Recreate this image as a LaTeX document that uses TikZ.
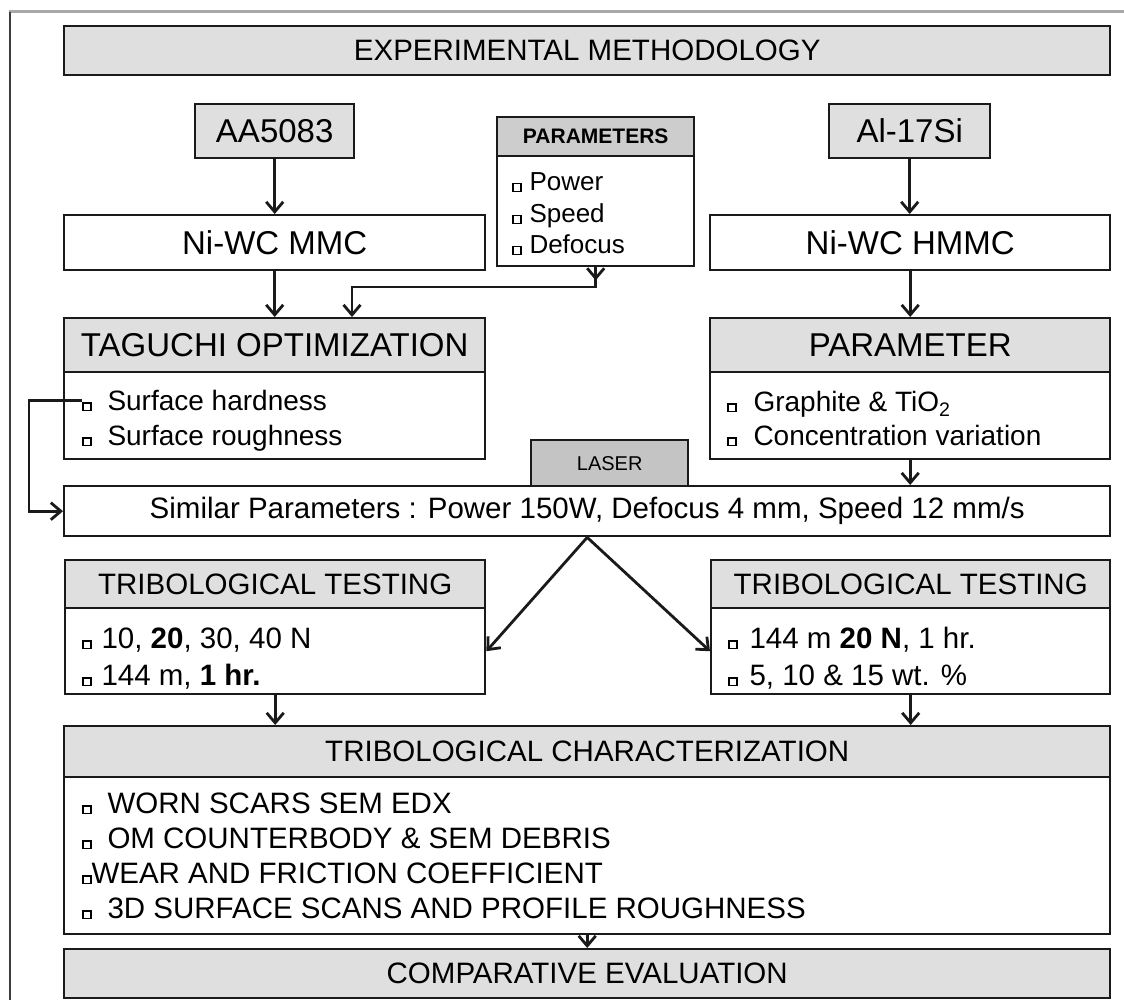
\documentclass[tikz,border=0pt]{standalone}
\usepackage{fontspec}
\setmainfont{Liberation Sans}
\usetikzlibrary{arrows.meta}
\definecolor{boxgray}{HTML}{DFDFDF}
\definecolor{hdgray}{HTML}{CDCDCD}
\definecolor{lasgray}{HTML}{C4C4C4}
\definecolor{edgec}{HTML}{1A1A1A}
\definecolor{framec}{HTML}{A8A8A8}
\newcommand{\sqbul}{{\setlength{\fboxsep}{0pt}\setlength{\fboxrule}{1.4pt}\fbox{\rule{0pt}{6.5pt}\rule{6.5pt}{0pt}}}}
\newcommand{\fsL}{\fontsize{33}{40}\selectfont}
\newcommand{\fsM}{\fontsize{29.5}{36}\selectfont}
\newcommand{\fsI}{\fontsize{28}{34}\selectfont}
\newcommand{\fsS}{\fontsize{26}{31}\selectfont}
\begin{document}
\begin{tikzpicture}[x=1pt,y=-1pt,
  box/.style={draw=edgec, line width=2.4pt, inner sep=0pt, anchor=north west},
  item/.style={inner sep=0pt, anchor=base west},
  arr/.style={draw=edgec, line width=2.8pt, -{Straight Barb[length=10pt,width=17pt]}}]
\useasboundingbox (0,0) rectangle (1124,1000);
% frame
\draw[framec, line width=3pt] (9,12) -- (1124,12);
\draw[edgec!85, line width=2pt] (10,12) -- (10,1000);
% title
\node[box, fill=boxgray, minimum width=1046pt, minimum height=49pt] (title) at (63,25) {\fsM EXPERIMENTAL METHODOLOGY};
% materials
\node[box, fill=boxgray, minimum width=159pt, minimum height=54pt] (aa) at (194,103) {\fsL AA5083};
\node[box, fill=boxgray, minimum width=161pt, minimum height=54pt] (alsi) at (828,103) {\fsL Al-17Si};
% parameters box
\node[box, fill=hdgray, minimum width=197pt, minimum height=39pt] (parH) at (496,116) {\fontsize{21}{25}\selectfont\bfseries PARAMETERS};
\node[box, fill=white, minimum width=197pt, minimum height=110pt] (parB) at (496,155) {};
\node[item] (p1) at (512,191) {\fsS\sqbul\hspace{8pt}Power};
\node[item] (p2) at (512,223) {\fsS\sqbul\hspace{8pt}Speed};
\node[item] (p3) at (512,254) {\fsS\sqbul\hspace{8pt}Defocus};
% composites
\node[box, fill=white, minimum width=421pt, minimum height=55pt] (mmc) at (63,214) {\fsL Ni-WC MMC};
\node[box, fill=white, minimum width=400pt, minimum height=55pt] (hmmc) at (709,214) {\fsL Ni-WC HMMC};
% taguchi
\node[box, fill=boxgray, minimum width=421pt, minimum height=54pt] (tagH) at (63,317) {\fsL TAGUCHI OPTIMIZATION};
\node[box, fill=white, minimum width=421pt, minimum height=87pt] (tagB) at (63,371) {};
\node[item] (t1) at (82,410) {\fsI\sqbul\hspace{16pt}Surface hardness};
\node[item] (t2) at (82,445) {\fsI\sqbul\hspace{16pt}Surface roughness};
% parameter
\node[box, fill=boxgray, minimum width=400pt, minimum height=54pt] (pmH) at (709,317) {\fsL PARAMETER};
\node[box, fill=white, minimum width=400pt, minimum height=87pt] (pmB) at (709,371) {};
\node[item] (g1) at (727,411) {\fsI\sqbul\hspace{17pt}Graphite \& TiO\textsubscript{2}};
\node[item] (g2) at (727,445) {\fsI\sqbul\hspace{17pt}Concentration variation};
% laser + similar
\node[box, fill=lasgray, minimum width=157pt, minimum height=46pt] (laser) at (530,439) {\fontsize{20}{24}\selectfont LASER};
\node[box, fill=white, minimum width=1046pt, minimum height=50pt] (sim) at (63,485) {\fsM Similar Parameters : Power 150W, Defocus 4 mm, Speed 12 mm/s};
% tribological testing
\node[box, fill=boxgray, minimum width=420pt, minimum height=48pt] (tlH) at (64,559) {\fsM TRIBOLOGICAL TESTING};
\node[box, fill=white, minimum width=420pt, minimum height=86pt] (tlB) at (64,607) {};
\node[item] (l1) at (82,648) {\fsM\sqbul\hspace{10pt}10, \textbf{20}, 30, 40 N};
\node[item] (l2) at (82,685) {\fsM\sqbul\hspace{10pt}144 m, \textbf{1 hr.}};
\node[box, fill=boxgray, minimum width=399pt, minimum height=48pt] (trH) at (710,559) {\fsM TRIBOLOGICAL TESTING};
\node[box, fill=white, minimum width=399pt, minimum height=86pt] (trB) at (710,607) {};
\node[item] (r1) at (728,648) {\fsM\sqbul\hspace{12pt}144 m \textbf{20 N}, 1 hr.};
\node[item] (r2) at (728,685) {\fsM\sqbul\hspace{12pt}5, 10 \& 15 wt. \%};
% characterization
\node[box, fill=boxgray, minimum width=1046pt, minimum height=51pt] (chH) at (63,725) {\fsM TRIBOLOGICAL CHARACTERIZATION};
\node[box, fill=white, minimum width=1046pt, minimum height=157pt] (chB) at (63,776) {};
\node[item] (c1) at (82,813) {\fsM\sqbul\hspace{16pt}WORN SCARS SEM EDX};
\node[item] (c2) at (82,848) {\fsM\sqbul\hspace{16pt}OM COUNTERBODY \& SEM DEBRIS};
\node[item] (c3) at (82,883) {\fsM\sqbul WEAR AND FRICTION COEFFICIENT};
\node[item] (c4) at (82,918) {\fsM\sqbul\hspace{16pt}3D SURFACE SCANS AND PROFILE ROUGHNESS};
\node[box, fill=boxgray, minimum width=1046pt, minimum height=49pt] (cmp) at (63,948) {\fsM COMPARATIVE EVALUATION};
% connectors
\draw[arr] (aa.south) -- (mmc.north);
\draw[arr] (alsi.south) -- (hmmc.north -| alsi.south);
\draw[arr] (mmc.south) -- (tagH.north);
\coordinate (pj) at (352,287);
\draw[arr] (parB.south) |- (pj) -- (pj |- tagH.north);
\draw[arr] (parB.south) -- ++(0,13);
\draw[arr] (hmmc.south) -- (pmH.north);
\draw[arr] (pmB.south) -- (sim.north -| pmB.south);
\draw[arr] (t1.west) -- ++(-53,0) |- (sim.west);
\draw[arr] (sim.south) -- (tlB.east);
\draw[arr] (sim.south) -- (trB.west);
\draw[arr] (tlB.south) -- (chH.north -| tlB.south);
\draw[arr] (trB.south) -- (chH.north -| trB.south);
\draw[arr] (chB.south) -- (cmp.north);
\end{tikzpicture}
\end{document}
